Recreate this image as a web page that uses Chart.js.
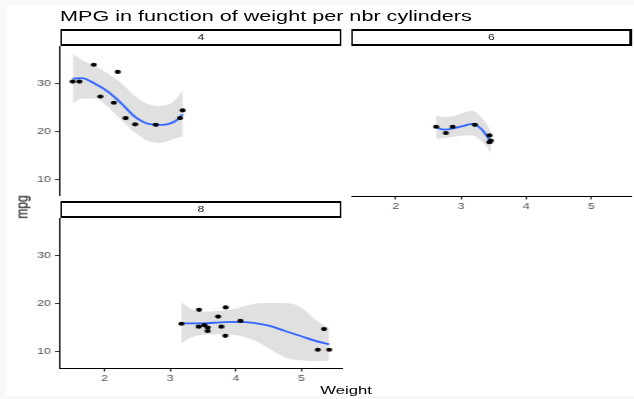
<!DOCTYPE html>
<html>
<head>
<meta charset="utf-8">
<script src="https://cdn.jsdelivr.net/npm/chart.js@4/dist/chart.umd.min.js"></script>
<style>
  html, body { margin:0; padding:0; width:634px; height:399px; background:#f8f8f8; overflow:hidden; }
  #frame { position:absolute; left:6px; top:5px; right:0; bottom:3px; background:#fff; }
  #stage { position:absolute; left:0; top:0; width:441px; height:399px; transform:scaleX(1.44); transform-origin:0 0; font-family:'Liberation Sans', Arial, sans-serif; }
  .abs { position:absolute; }
  .strip { position:absolute; background:#000; }
  .strip > div { position:absolute; left:1.4px; right:1.4px; top:2px; bottom:2px; background:#fff; color:#1a1a1a; font-size:8.5px; display:flex; align-items:center; justify-content:center; }
  canvas { position:absolute; }
</style>
</head>
<body>
<div id="frame"></div>
<div id="stage">
  <div class="abs" style="left:41.7px; top:7px; font-size:15px; color:#000; white-space:nowrap;">MPG in function of weight per nbr cylinders</div>
  <div class="strip" style="left:41.7px; top:29.3px; width:195.8px; height:16.4px;"><div>4</div></div>
  <div class="strip" style="left:243.75px; top:29.3px; width:195.1px; height:16.4px;"><div>6</div></div>
  <div class="strip" style="left:41.7px; top:201px; width:195.8px; height:16.7px;"><div>8</div></div>
  <canvas id="c4" width="238" height="150" style="left:0; top:46px;"></canvas>
  <canvas id="c6" width="195" height="172" style="left:244px; top:46px;"></canvas>
  <canvas id="c8" width="238" height="172" style="left:0; top:218px;"></canvas>
  <div class="abs" style="left:15.3px; top:207px; transform:translate(-50%,-50%) rotate(-90deg); font-size:12px; color:#000; white-space:nowrap;">mpg</div>
  <div class="abs" style="left:240.3px; top:383.5px; transform:translateX(-50%); font-size:11.6px; line-height:1; color:#000; white-space:nowrap;">Weight</div>
</div>
<script>
// ---- data ----
const xTicks = [2, 3, 4, 5];
const yTicks = [10, 20, 30];

// 4 cylinders
const wt4  = [2.32, 3.19, 3.15, 2.2, 1.615, 1.835, 2.465, 1.935, 2.14, 1.513, 2.78];
const mpg4 = [22.8, 24.4, 22.8, 32.4, 30.4, 33.9, 21.5, 27.3, 26.0, 30.4, 21.4];
const fitX4  = [1.513, 1.65, 1.86, 2.06, 2.26, 2.47, 2.67, 2.87, 3.08, 3.19];
const fit4   = [31.0, 31.1, 29.9, 28.2, 25.8, 23.0, 21.6, 21.4, 22.2, 23.6];
const upper4 = [36.2, 34.9, 33.6, 32.0, 30.0, 27.3, 25.7, 25.3, 26.6, 28.7];
const lower4 = [25.9, 26.9, 26.9, 25.0, 22.3, 19.7, 18.0, 17.7, 18.6, 19.0];

// 6 cylinders
const wt6  = [2.62, 2.875, 3.215, 3.46, 3.44, 3.44, 2.77];
const mpg6 = [21.0, 21.0, 21.4, 18.1, 19.2, 17.8, 19.7];
const fitX6  = [2.62, 2.75, 2.90, 3.06, 3.18, 3.31, 3.40, 3.46];
const fit6   = [20.9, 20.4, 20.7, 21.25, 21.6, 20.6, 19.1, 17.8];
const upper6 = [23.3, 23.0, 23.3, 24.0, 24.4, 23.0, 21.5, 19.9];
const lower6 = [18.5, 18.6, 18.9, 19.2, 19.2, 18.1, 16.8, 15.4];

// 8 cylinders
const wt8  = [3.44, 3.57, 4.07, 3.73, 3.78, 5.25, 5.424, 5.345, 3.52, 3.435, 3.84, 3.845, 3.17, 3.57];
const mpg8 = [18.7, 14.3, 16.4, 17.3, 15.2, 10.4, 10.4, 14.7, 15.5, 15.2, 13.3, 19.2, 15.8, 15.0];
const fitX8  = [3.17, 3.30, 3.50, 3.76, 4.01, 4.27, 4.50, 4.75, 5.00, 5.20, 5.424];
const fit8   = [15.9, 15.9, 15.9, 16.1, 16.2, 16.0, 15.4, 14.3, 13.2, 12.3, 11.5];
const upper8 = [20.2, 19.0, 18.3, 18.5, 19.0, 19.9, 20.1, 20.1, 19.2, 16.8, 14.8];
const lower8 = [11.7, 12.8, 13.5, 13.6, 13.4, 12.4, 10.7, 8.8, 8.2, 8.0, 8.1];

// ---- drawing ----
const X_MIN = 1.32, X_MAX = 5.63, Y_MIN = 6.6, Y_MAX = 37.8;
const FONT = 'Liberation Sans';

function pts(xs, ys) { return xs.map((x, i) => ({ x: x, y: ys[i] })); }

function makePanel(id, o) {
  new Chart(document.getElementById(id), {
    type: 'line',
    data: {
      datasets: [
        { data: pts(o.wt, o.mpg), showLine: false, pointRadius: 2.1, pointHoverRadius: 2.1,
          pointBackgroundColor: '#000', pointBorderWidth: 0, borderColor: '#000', order: 0 },
        { data: pts(o.fx, o.fit), borderColor: '#3366FF', borderWidth: 1.8, pointRadius: 0,
          cubicInterpolationMode: 'monotone', fill: false, order: 1 },
        { data: pts(o.fx, o.up), borderColor: 'transparent', borderWidth: 0, pointRadius: 0,
          backgroundColor: 'rgba(153,153,153,0.3)', fill: '+1', cubicInterpolationMode: 'monotone', order: 2 },
        { data: pts(o.fx, o.lo), borderColor: 'transparent', borderWidth: 0, pointRadius: 0,
          fill: false, cubicInterpolationMode: 'monotone', order: 3 }
      ]
    },
    options: {
      responsive: false,
      animation: false,
      events: [],
      layout: { padding: 0, autoPadding: false },
      plugins: { legend: { display: false }, tooltip: { enabled: false }, title: { display: false } },
      scales: {
        x: {
          type: 'linear', min: X_MIN, max: X_MAX, display: o.showX,
          afterBuildTicks: s => { s.ticks = xTicks.map(v => ({ value: v })); },
          afterFit: s => { s.height = o.showX ? 22 : 0; s.paddingLeft = 0; s.paddingRight = 0; },
          grid: { display: true, drawOnChartArea: false, drawTicks: true, tickLength: 3.5, color: '#333', lineWidth: 1 },
          border: { display: true, color: '#000', width: 1 },
          ticks: { color: '#4d4d4d', font: { family: FONT, size: 8.5 }, padding: 2, maxRotation: 0, autoSkip: false,
                   callback: v => String(v) }
        },
        y: {
          type: 'linear', min: Y_MIN, max: Y_MAX, display: o.showY,
          afterBuildTicks: s => { s.ticks = yTicks.map(v => ({ value: v })); },
          afterFit: s => { s.width = o.showY ? 41.67 : 0; s.paddingTop = 0; s.paddingBottom = 0; },
          grid: { display: true, drawOnChartArea: false, drawTicks: true, tickLength: 3.5, color: '#333', lineWidth: 1 },
          border: { display: true, color: '#000', width: 1 },
          ticks: { color: '#4d4d4d', font: { family: FONT, size: 8.5 }, padding: 3, autoSkip: false,
                   callback: v => String(v) }
        }
      }
    }
  });
}

makePanel('c4', { wt: wt4, mpg: mpg4, fx: fitX4, fit: fit4, up: upper4, lo: lower4, showX: false, showY: true });
makePanel('c6', { wt: wt6, mpg: mpg6, fx: fitX6, fit: fit6, up: upper6, lo: lower6, showX: true, showY: false });
makePanel('c8', { wt: wt8, mpg: mpg8, fx: fitX8, fit: fit8, up: upper8, lo: lower8, showX: true, showY: true });
</script>
</body>
</html>
